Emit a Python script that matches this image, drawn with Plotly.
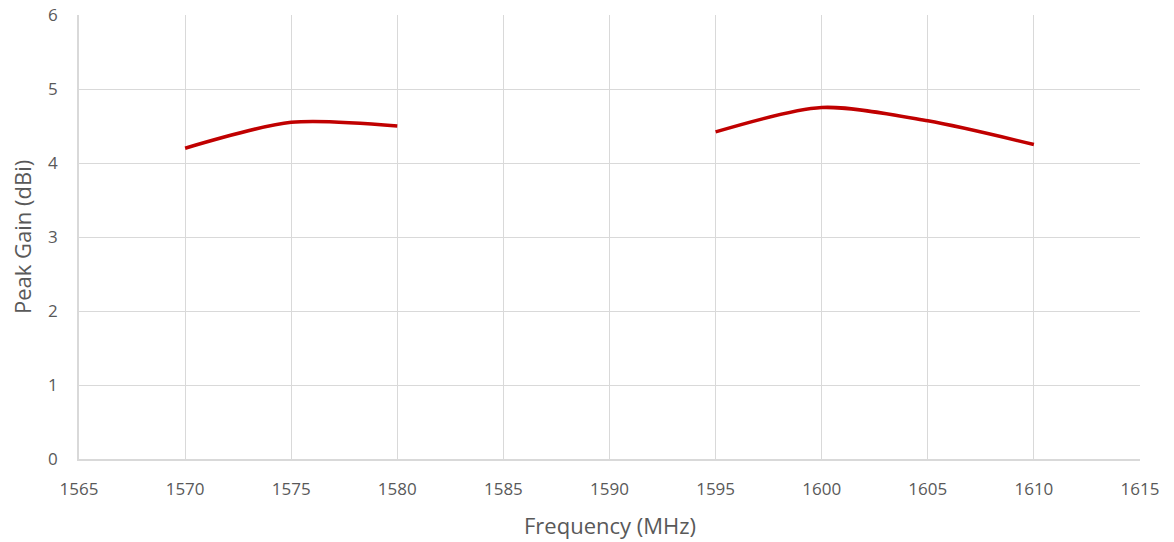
import plotly.graph_objects as go

freq_low = [1570, 1575, 1580]
gain_low = [4.20, 4.55, 4.50]
freq_high = [1595, 1600, 1605, 1610]
gain_high = [4.42, 4.75, 4.57, 4.25]

x_ticks = list(range(1565, 1616, 5))
y_ticks = [0, 1, 2, 3, 4, 5, 6]

fig = go.Figure()
for fx, gy in [(freq_low, gain_low), (freq_high, gain_high)]:
    fig.add_trace(go.Scatter(x=fx, y=gy, mode="lines",
                             line=dict(color="#c00000", width=3.5, shape="spline", smoothing=0.8),
                             showlegend=False))

font_col = "#595959"
fam = "Open Sans, sans-serif"
fig.update_layout(
    width=1174, height=542,
    margin=dict(l=79, r=34, t=15, b=83),
    paper_bgcolor="white", plot_bgcolor="white",
    font=dict(family=fam, color=font_col, size=17),
    xaxis=dict(range=[1565, 1615], tickvals=x_ticks, showgrid=True, gridcolor="#d9d9d9",
               gridwidth=1, showline=True, linecolor="#d9d9d9", linewidth=1.5,
               zeroline=False, ticks="", automargin=False, ticklabelstandoff=14,
               tickfont=dict(size=17, color=font_col, family=fam)),
    yaxis=dict(range=[0, 6], tickvals=y_ticks, showgrid=True, gridcolor="#d9d9d9",
               gridwidth=1, showline=True, linecolor="#d9d9d9", linewidth=1.5,
               zeroline=False, ticks="", automargin=False, ticklabelstandoff=16,
               tickfont=dict(size=17, color=font_col, family=fam)),
    annotations=[
        dict(text="Frequency (MHz)", xref="paper", yref="paper", x=0.5, y=-0.148,
             xanchor="center", yanchor="middle", showarrow=False,
             font=dict(size=22, color=font_col, family=fam)),
        dict(text="Peak Gain (dBi)", xref="paper", yref="paper", x=-0.0537, y=0.5,
             xanchor="center", yanchor="middle", showarrow=False, textangle=-90,
             font=dict(size=22, color=font_col, family=fam)),
    ],
)
fig.write_html("out.html", config={"displayModeBar": False},
               post_script="document.body.style.margin='0';")
